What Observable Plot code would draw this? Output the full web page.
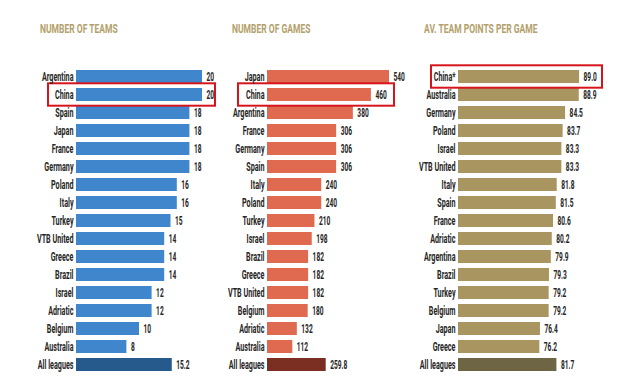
<!DOCTYPE html>
<html>
<head>
<meta charset="utf-8">
<script src="https://cdn.jsdelivr.net/npm/d3@7"></script>
<script src="https://cdn.jsdelivr.net/npm/@observablehq/plot@0.6"></script>
<style>
  html, body { margin: 0; padding: 0; background: #fff; }
  #wrap { position: relative; width: 640px; height: 390px; overflow: hidden; font-family: Roboto, sans-serif; }
  .title { position: absolute; top: 21px; font-family: Roboto, sans-serif; font-weight: bold; font-size: 12.5px; color: #b3a06b; transform: scaleX(0.68); transform-origin: 0 0; white-space: nowrap; }
</style>
</head>
<body>
<div id="wrap"></div>
<script>
// Panel 1: Number of teams
const teamsLeagues = ["Argentina","China","Spain","Japan","France","Germany","Poland","Italy","Turkey","VTB United","Greece","Brazil","Israel","Adriatic","Belgium","Australia","All leagues"];
const teamsValues  = [20,20,18,18,18,18,16,16,15,14,14,14,12,12,10,8,15.2];

// Panel 2: Number of games
const gamesLeagues = ["Japan","China","Argentina","France","Germany","Spain","Italy","Poland","Turkey","Israel","Brazil","Greece","VTB United","Belgium","Adriatic","Australia","All leagues"];
const gamesValues  = [540,460,380,306,306,306,240,240,210,198,182,182,182,180,132,112,259.8];

// Panel 3: Average team points per game
const pointsLeagues = ["China*","Australia","Germany","Poland","Israel","VTB United","Italy","Spain","France","Adriatic","Argentina","Brazil","Turkey","Belgium","Japan","Greece","All leagues"];
const pointsValues  = [89.0,88.9,84.5,83.7,83.3,83.3,81.8,81.5,80.6,80.2,79.9,79.3,79.2,79.2,76.4,76.2,81.7];

const titles = ["NUMBER OF TEAMS", "NUMBER OF GAMES", "AV. TEAM POINTS PER GAME"];

const panels = [
  {title: titles[0], cats: teamsLeagues, vals: teamsValues, left: 0, width: 215, ml: 76, mr: 13, domain: [0, 20],
   color: "#3f86cc", total: "#275a8c", fmt: d => Number.isInteger(d) ? String(d) : d.toFixed(1),
   hl: "China", insL: -28, insR: -13, titleX: 40},
  {title: titles[1], cats: gamesLeagues, vals: gamesValues, left: 210, width: 210, ml: 57, mr: 31, domain: [0, 540],
   color: "#df6a4f", total: "#7b2e22", fmt: d => Number.isInteger(d) ? String(d) : d.toFixed(1),
   hl: "China", insL: -29, insR: -5, titleX: 232},
  {title: titles[2], cats: pointsLeagues, vals: pointsValues, left: 410, width: 230, ml: 48, mr: 60, domain: [50, 89.3],
   color: "#a8955f", total: "#6e6545", fmt: d => d.toFixed(1),
   hl: "China*", insL: -27, insR: -22, titleX: 424}
];

const wrap = document.getElementById("wrap");

function condense(svg) {
  for (const t of svg.querySelectorAll("text")) {
    const g = t.closest("g[text-anchor]");
    const anchor = g ? g.getAttribute("text-anchor") : "start";
    const s = anchor === "end" ? 0.6 : 0.55;
    let tr = t.getAttribute("transform");
    if (!tr) {
      const x = t.getAttribute("x") || 0, y = t.getAttribute("y") || 0;
      t.removeAttribute("x"); t.removeAttribute("y");
      tr = `translate(${x},${y})`;
    }
    t.setAttribute("transform", tr + ` scale(${s},1)`);
  }
}

for (const p of panels) {
  const data = p.cats.map((c, i) => ({league: c, value: p.vals[i], total: c === "All leagues"}));
  const t = document.createElement("div");
  t.className = "title";
  t.style.left = p.titleX + "px";
  t.textContent = p.title;
  wrap.appendChild(t);

  const chart = Plot.plot({
    width: p.width,
    height: 390,
    marginLeft: p.ml,
    marginRight: p.mr,
    marginTop: 64,
    marginBottom: 12,
    style: {fontFamily: "Roboto, sans-serif", fontSize: "12px", overflow: "visible", background: "transparent"},
    x: {domain: p.domain, axis: null},
    y: {domain: p.cats, padding: 0.27, axis: null},
    marks: [
      Plot.barX(data, {x1: p.domain[0], x2: "value", y: "league", fill: d => d.total ? p.total : p.color}),
      Plot.ruleX([p.domain[0]], {stroke: "#c8c8c8", strokeWidth: 1, y1: p.cats[0], y2: p.cats[p.cats.length - 1], insetTop: -8, insetBottom: -8}),
      Plot.barX(data.filter(d => d.league === p.hl), {x1: p.domain[0], x2: p.domain[1], y: "league", fill: "none", stroke: "#d6141c", strokeWidth: 2, insetLeft: p.insL, insetRight: p.insR, insetTop: -4.7, insetBottom: -4.7}),
      Plot.text(data, {x: p.domain[0], y: "league", text: "league", textAnchor: "end", dx: -3, fill: "#262626", fontWeight: "bold"}),
      Plot.text(data, {x: "value", y: "league", text: d => p.fmt(d.value), textAnchor: "start", dx: 4, fill: "#262626", fontWeight: "bold"})
    ]
  });
  condense(chart);
  chart.style.left = p.left + "px";
  chart.style.position = "absolute";
  chart.style.top = "0px";
  wrap.appendChild(chart);
}
</script>
</body>
</html>
